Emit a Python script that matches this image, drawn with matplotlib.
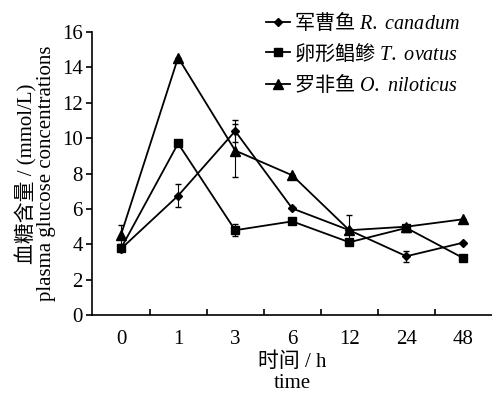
import matplotlib
matplotlib.use('Agg')
import matplotlib.pyplot as plt
import numpy as np

plt.rcParams['font.family'] = ['Liberation Serif', 'Noto Sans CJK SC']
plt.rcParams['mathtext.fontset'] = 'custom'
plt.rcParams['mathtext.it'] = 'Liberation Serif:italic'
plt.rcParams['mathtext.rm'] = 'Noto Sans CJK SC'

# data
times = ['0', '1', '3', '6', '12', '24', '48']
rc_mean = [3.75, 6.75, 10.4, 6.03, 4.8, 3.33, 4.1]
rc_err = [0.0, 0.65, 0.6, 0.0, 0.0, 0.3, 0.0]
to_mean = [3.78, 9.7, 4.8, 5.3, 4.12, 4.93, 3.22]
to_err = [0.0, 0.0, 0.35, 0.0, 0.0, 0.0, 0.0]
on_mean = [4.55, 14.55, 9.3, 7.9, 4.8, 5.0, 5.42]
on_err = [0.55, 0.0, 1.5, 0.0, 0.85, 0.0, 0.0]

labels = [r'$\mathrm{军曹鱼}\ \mathit{R.\ canadum}$',
          r'$\mathrm{卵形鲳鲹}\ \mathit{T.\ ovatus}$',
          r'$\mathrm{罗非鱼}\ \mathit{O.\ niloticus}$']

fig = plt.figure(figsize=(4.92, 3.94), dpi=100)
ax = fig.add_axes([0.188, 0.2, 0.812, 0.719])

x = np.arange(len(times))
series = [(rc_mean, rc_err, 'D', 4), (to_mean, to_err, 's', 5.5),
          (on_mean, on_err, '^', 7)]
for (m, e, mk, ms), lab in zip(series, labels):
    ax.errorbar(x, m, yerr=e, fmt='none', ecolor='black', capsize=2.5,
                elinewidth=0.8)
    ax.plot(x, m, color='black', marker=mk, ms=ms, lw=1.3, label=lab)

ax.set_xlim(-0.5, len(times) - 0.5)
ax.set_ylim(0, 16)
ax.set_yticks(range(0, 17, 2))
ax.set_xticks(x)
ax.set_xticklabels(times)
ax.set_xticks(np.arange(0.5, len(times) - 1, 1), minor=True)
ax.tick_params(axis='x', which='major', length=0, labelsize=15, pad=11)
ax.tick_params(axis='x', which='minor', direction='in', length=4, width=1.2)
ax.tick_params(axis='y', direction='out', length=4, width=1.2, labelsize=15,
               pad=3)
for s in ['top', 'right']:
    ax.spines[s].set_visible(False)
for s in ['left', 'bottom']:
    ax.spines[s].set_linewidth(1.2)

ax.set_ylabel('血糖含量 / (mmol/L)\nplasma glucose concentrations', fontsize=15,
              linespacing=1.0, labelpad=4)
ax.set_xlabel('时间 / h\ntime', fontsize=15, linespacing=1.15, labelpad=2)

ax.legend(loc='upper right', bbox_to_anchor=(0.92, 1.075), frameon=False,
          fontsize=14.5, handlelength=1.2, handletextpad=0.2, labelspacing=0.42,
          borderaxespad=0, borderpad=0)

plt.savefig('out.png', dpi=100)
